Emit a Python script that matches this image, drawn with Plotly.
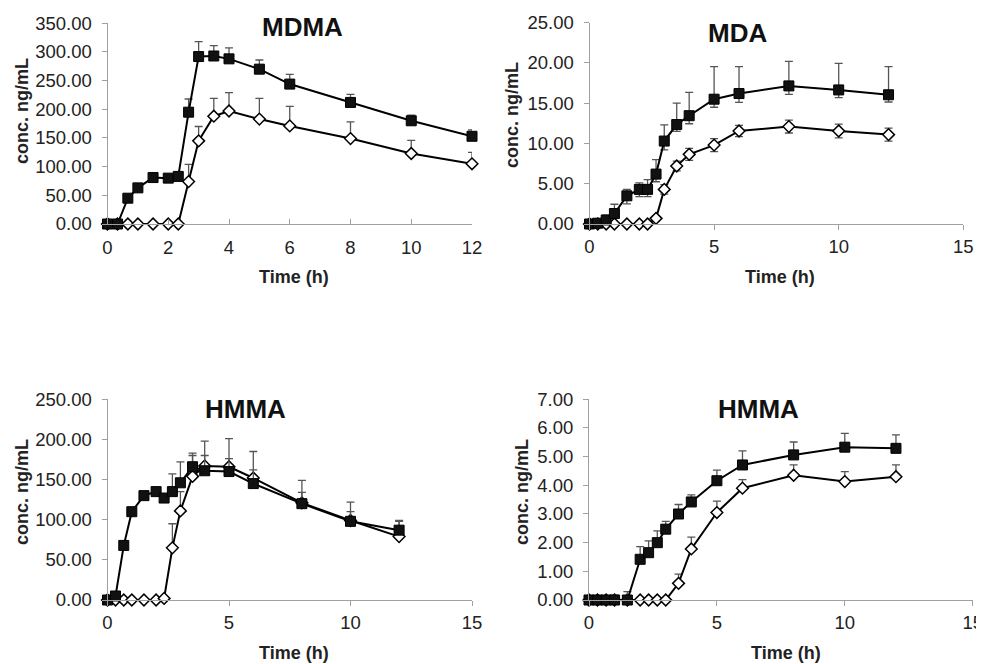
import plotly.graph_objects as go

# ---------------- data ----------------
t = [0, 0.33, 0.67, 1, 1.5, 2, 2.33, 2.67, 3, 3.5, 4, 5, 6, 8, 10, 12]

mdma_sq = [0, 0, 45, 63, 81, 80, 83, 195, 292, 293, 288, 270, 244, 212, 180, 153]
mdma_sq_err = [1, 1, 4, 3, 3, 3, 4, 23, 26, 18, 19, 16, 17, 14, 10, 11]
mdma_di = [0, 0, 0, 0, 0, 0, 0, 74, 145, 188, 197, 183, 171, 149, 123, 105]
mdma_di_err = [0, 0, 0, 0, 0, 0, 0, 30, 25, 31, 32, 36, 34, 29, 23, 20]

mda_sq = [0, 0.1, 0.5, 1.3, 3.5, 4.3, 4.3, 6.2, 10.3, 12.35, 13.45, 15.5, 16.2, 17.15, 16.65, 16.05]
mda_sq_err = [0.3, 0.3, 0.6, 1.15, 0.8, 0.8, 1.2, 1.8, 2.0, 2.65, 2.9, 4.05, 3.35, 3.05, 3.3, 3.5]
mda_sq_errm = [0, 0.1, 0.3, 0.6, 1.0, 0.9, 0.9, 0.95, 1.1, 0.85, 1.0, 1.0, 1.1, 1.05, 0.95, 0.9]
mda_di = [0, 0, 0, 0, 0, 0, 0, 0.7, 4.3, 7.2, 8.65, 9.8, 11.55, 12.1, 11.55, 11.1]
mda_di_err = [0, 0, 0, 0, 0, 0, 0, 0.3, 0.6, 0.6, 0.75, 0.8, 0.7, 0.8, 0.85, 0.8]

hmma_sq = [0, 5, 68, 110, 130, 135, 127, 135, 146, 166, 161, 160, 145, 120, 98, 87]
hmma_sq_err = [1, 2, 3, 3, 3, 3, 3, 22, 26, 17, 19, 16, 17, 14, 12, 11]
hmma_di = [0, 0, 0, 0, 0, 0, 2, 65, 111, 154, 167, 166, 152, 121, 99, 79]
hmma_di_err = [0, 0, 0, 0, 0, 0, 0, 30, 24, 26, 31, 35, 33, 28, 23, 20]

hmma2_sq = [0, 0, 0, 0, 0, 1.42, 1.65, 2.0, 2.47, 3.0, 3.42, 4.16, 4.71, 5.06, 5.33, 5.29]
hmma2_sq_err = [0.05, 0.1, 0.1, 0.17, 0.29, 0.44, 0.41, 0.41, 0.27, 0.33, 0.25, 0.37, 0.49, 0.45, 0.48, 0.47]
hmma2_di = [0, 0, 0, 0, 0, 0, 0, 0, 0, 0.58, 1.78, 3.05, 3.9, 4.35, 4.13, 4.3]
hmma2_di_err = [0, 0, 0, 0, 0, 0, 0, 0, 0, 0.32, 0.41, 0.40, 0.30, 0.36, 0.35, 0.41]

titles = ["MDMA", "MDA", "HMMA", "HMMA"]
x_title = "Time (h)"
y_title = "conc. ng/mL"

# ---------------- layout geometry ----------------
W, H = 984, 664
OFF = 8  # page body margin offset
def px(x):
    return (x - OFF) / W
def py(y):
    return 1 - (y - OFF) / H

FONT = "Arial, Liberation Sans, sans-serif"
AX = "#a0a0a0"
TXT = "#222222"

panels = [
    dict(x=(107.5, 472), y=(224, 23.3), xr=[0, 12], dx=2, yr=[0, 350], dy=50, xt="inside"),
    dict(x=(589.5, 963.3), y=(224, 22.7), xr=[0, 15], dx=5, yr=[0, 25], dy=5, xt="outside"),
    dict(x=(107.5, 472), y=(600, 399.3), xr=[0, 15], dx=5, yr=[0, 250], dy=50, xt="outside"),
    dict(x=(589, 972.7), y=(600, 399.3), xr=[0, 15], dx=5, yr=[0, 7], dy=1, xt="outside"),
]

series = [
    (mdma_sq, mdma_sq_err, None, mdma_di, mdma_di_err, None),
    (mda_sq, mda_sq_err, mda_sq_errm, mda_di, mda_di_err, mda_di_err),
    (hmma_sq, hmma_sq_err, None, hmma_di, hmma_di_err, None),
    (hmma2_sq, hmma2_sq_err, None, hmma2_di, hmma2_di_err, None),
]

fig = go.Figure()

for i, (p, s) in enumerate(zip(panels, series)):
    n = "" if i == 0 else str(i + 1)
    xa, ya = "x" + n, "y" + n
    sq, sqe, sqm, di, die, dim = s
    eb_di = dict(type="data", array=die, symmetric=False,
                 arrayminus=dim if dim is not None else [0] * len(die),
                 color="#555555", thickness=1.3, width=4)
    eb_sq = dict(type="data", array=sqe, symmetric=False,
                 arrayminus=sqm if sqm is not None else [0] * len(sqe),
                 color="#555555", thickness=1.3, width=4)
    fig.add_trace(go.Scatter(
        x=t, y=di, xaxis=xa, yaxis=ya, mode="lines+markers",
        line=dict(color="black", width=2),
        marker=dict(symbol="diamond", size=9, color="white",
                    line=dict(color="black", width=1.5)),
        error_y=eb_di, cliponaxis=False, showlegend=False))
    fig.add_trace(go.Scatter(
        x=t, y=sq, xaxis=xa, yaxis=ya, mode="lines+markers",
        line=dict(color="black", width=2),
        marker=dict(symbol="square", size=10, color="#111111",
                    line=dict(color="black", width=1)),
        error_y=eb_sq, cliponaxis=False, showlegend=False))

    xkey = "xaxis" + n
    ykey = "yaxis" + n
    fig.layout[xkey] = dict(
        domain=[px(p["x"][0]), px(p["x"][1])], anchor=ya, range=p["xr"],
        dtick=p["dx"], tick0=0, showgrid=False, zeroline=False, automargin=False,
        showline=True, linecolor=AX, linewidth=1,
        ticks=p["xt"], ticklen=5, tickcolor=AX, tickwidth=1,
        ticklabelstandoff=1 if p["xt"] == "outside" else 7,
        tickfont=dict(family=FONT, size=18.5, color=TXT))
    fig.layout[ykey] = dict(
        domain=[py(p["y"][0]), py(p["y"][1])], anchor=xa, range=p["yr"],
        dtick=p["dy"], tick0=0, tickformat=".2f", showgrid=False, zeroline=False,
        automargin=False,
        showline=True, linecolor=AX, linewidth=1,
        ticks="outside", ticklen=5, tickcolor=AX, tickwidth=1,
        ticklabelstandoff=6,
        tickfont=dict(family=FONT, size=18.5, color=TXT))

annos = []
title_pos = [(302, 27), (737, 33), (245, 409), (758, 409)]
for ttl, (x, y) in zip(titles, title_pos):
    annos.append(dict(text="<b>%s</b>" % ttl, x=px(x), y=py(y), xref="paper", yref="paper",
                      showarrow=False, xanchor="center", yanchor="middle",
                      font=dict(family=FONT, size=26, color="#111111")))
xt_pos = [(294, 277), (780, 277), (294, 653), (786, 653)]
for (x, y) in xt_pos:
    annos.append(dict(text="<b>%s</b>" % x_title, x=px(x), y=py(y), xref="paper", yref="paper",
                      showarrow=False, xanchor="center", yanchor="middle",
                      font=dict(family=FONT, size=18, color=TXT)))
yt_pos = [(22, 111), (512, 115), (22, 492), (522, 492)]
for (x, y) in yt_pos:
    annos.append(dict(text="<b>%s</b>" % y_title, x=px(x), y=py(y), xref="paper", yref="paper",
                      showarrow=False, xanchor="center", yanchor="middle", textangle=-90,
                      font=dict(family=FONT, size=18, color=TXT)))

fig.update_layout(
    width=W, height=H, margin=dict(l=0, r=0, t=0, b=0, pad=0, autoexpand=False),
    paper_bgcolor="white", plot_bgcolor="white",
    annotations=annos, showlegend=False)

fig.write_html("out.html")
